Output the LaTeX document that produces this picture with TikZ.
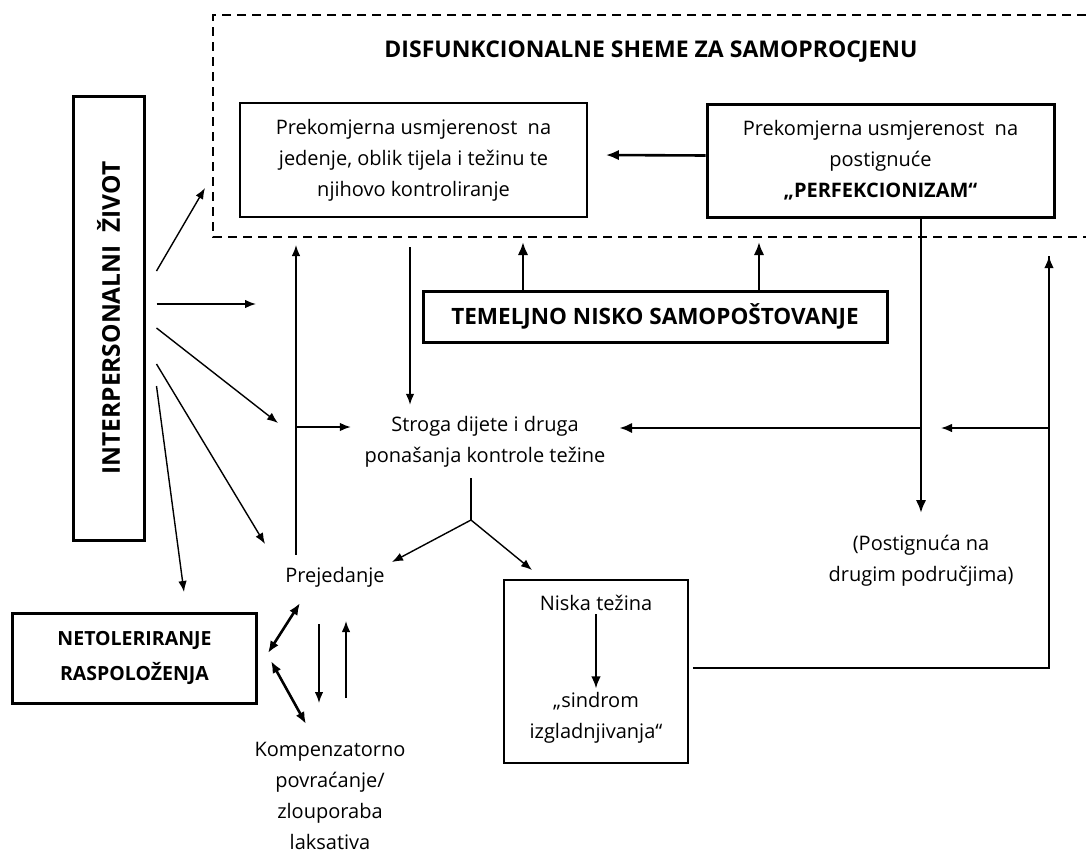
\documentclass[tikz,border=0pt]{standalone}
\usepackage{fontspec}
\setmainfont{Open Sans}
\usetikzlibrary{arrows.meta}

\tikzset{
  txt/.style={align=center, font=\fontsize{20}{31}\selectfont},
  head/.style={align=center, font=\fontsize{23}{35}\selectfont\bfseries},
  thinbox/.style={draw, line width=1.8pt},
  thickbox/.style={draw, line width=3pt},
  arr/.style={-{Latex[length=11pt,width=8.5pt]}, line width=1.4pt},
  bigarr/.style={-{Latex[length=13pt,width=10.5pt]}, line width=2.6pt},
  dblarr/.style={{Latex[length=12pt,width=9.5pt]}-{Latex[length=12pt,width=9.5pt]}, line width=2.6pt}
}

\begin{document}
\begin{tikzpicture}[x=1pt, y=-1pt]
\useasboundingbox (0,0) rectangle (1086,854);
\draw[line width=1.6pt, dash pattern=on 9pt off 6pt] (1086,15) -| (213,237) -- (1086,237);
\node[head] (title) at (651,52) {DISFUNKCIONALNE SHEME ZA SAMOPROCJENU};
\node[txt, thinbox, minimum width=347pt, minimum height=114pt] (eat) at (413.5,160)
   {Prekomjerna usmjerenost\ \ na\\jedenje, oblik tijela i težinu te\\njihovo kontroliranje};
\node[txt, thickbox, minimum width=347pt, minimum height=113pt] (perf) at (880.5,160.5)
   {Prekomjerna usmjerenost\ \ na\\postignuće\\\textbf{„PERFEKCIONIZAM“}};
\node[head, font=\fontsize{24.5}{35}\selectfont\bfseries, thickbox, rotate=90,
   minimum width=444pt, minimum height=71pt] (life) at (108.5,318) {INTERPERSONALNI\ \ ŽIVOT};
\node[head, font=\fontsize{22.5}{35}\selectfont\bfseries, thickbox,
   minimum width=464pt, minimum height=51pt] (self) at (655,316.5) {TEMELJNO NISKO SAMOPOŠTOVANJE};
\node[txt, minimum width=268pt, minimum height=73pt] (diet) at (485,441.5)
   {Stroga dijete i druga\\ponašanja kontrole težine};
\node[txt, minimum width=120pt, minimum height=44pt] (binge) at (335,577) {Prejedanje};
\node[head, font=\fontsize{19.5}{35}\selectfont\bfseries, thickbox,
   minimum width=244pt, minimum height=90pt] (mood) at (134.5,658) {NETOLERIRANJE\\RASPOLOŽENJA};
\node[txt] (purge) at (330,795.5) {Kompenzatorno\\povraćanje/\\zlouporaba\\laksativa};
\node[thinbox, minimum width=184pt, minimum height=183pt] (low) at (596,671.5) {};
\node[txt] (lowt) at (596,603) {Niska težina};
\node[txt] (starve) at (596,717.5) {„sindrom\\izgladnjivanja“};
\node[txt] (other) at (921,560.5) {(Postignuća na\\drugim područjima)};

\coordinate (a1) at (523,242);
\coordinate (a2) at (759,242);
\coordinate (b1) at (921,513);
\coordinate (j1) at (921,428);
\coordinate (c1) at (1049,668);
\coordinate (c2) at (1049,256);
\coordinate (c4) at (941,428);
\coordinate (d1) at (410,247);
\coordinate (e1) at (296,245);
\coordinate (e2) at (296,427);
\coordinate (f1) at (471,520);
\coordinate (g1) at (392,562);
\coordinate (g2) at (532,570);

\draw[bigarr] ([yshift=5pt]perf.west) -- ([yshift=5pt,xshift=18pt]eat.east);
\draw[bigarr] (self.north -| a1) -- (a1);
\draw[bigarr] (self.north -| a2) -- (a2);
\draw[bigarr] (perf.south -| b1) -- (b1);
\draw[bigarr] (j1) -- (diet.east |- j1);
\draw[line width=2pt] ([xshift=4pt]low.east |- c1) -| (c2);
\draw[-{Latex[length=12pt,width=9.5pt]}, line width=2pt] (c1) -- (c2);
\draw[arr] (c1 |- c4) -- (c4);
\draw[arr] (d1) -- (diet.north -| d1);
\draw[arr] (binge.north -| e1) -- (e1);
\draw[arr] (e2) -- (diet.west |- e2);
\draw[line width=1.4pt] (diet.south -| f1) -- (f1);
\draw[arr] (f1) -- (g1);
\draw[arr] (f1) -- (g2);
\foreach \sy/\ex/\ey in {271/205/188, 304/256/304, 328/278/423, 364/265/544, 386/184/592}
  \draw[arr] ([xshift=11pt]life.south |- 0,\sy) -- (\ex,\ey);
\draw[dblarr] (268,653) -- (300,603);
\draw[dblarr] (271,661) -- (306,724);
\draw[arr] (319,624) -- (319,703);
\draw[arr] (346,698) -- (346,621);
\draw[-{Latex[length=12pt,width=9.5pt]}, line width=2pt] (lowt.south) -- (starve.north);
\end{tikzpicture}
\end{document}
